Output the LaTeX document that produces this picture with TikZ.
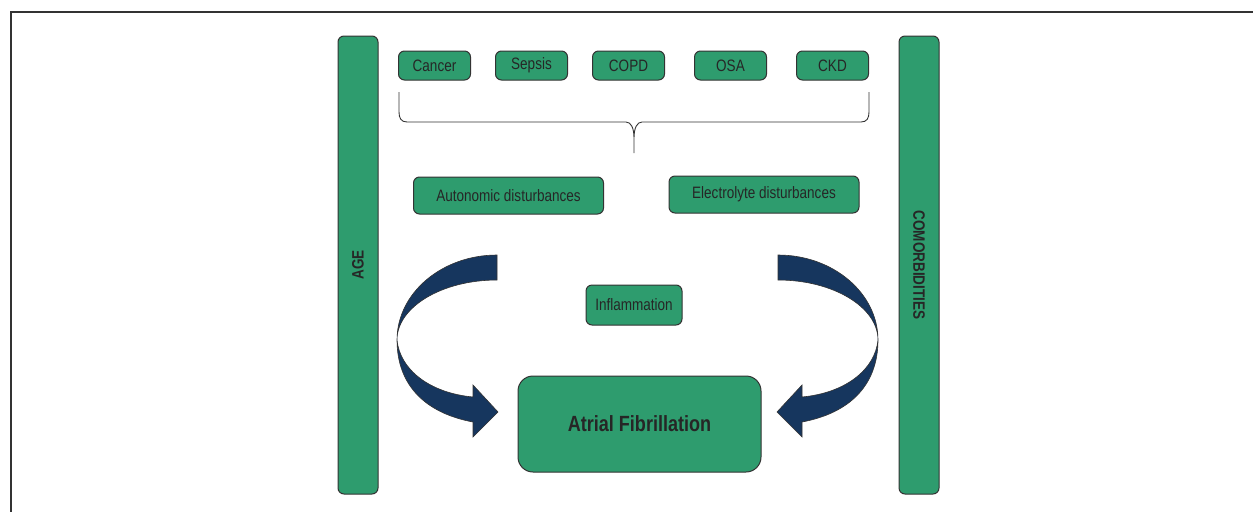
\documentclass[tikz,border=0pt]{standalone}
\usepackage{fontspec}
\setmainfont{Liberation Sans}[FakeStretch=0.82]
\usetikzlibrary{positioning}
\definecolor{afgreen}{RGB}{46,156,110}
\definecolor{afnavy}{RGB}{22,54,94}
\definecolor{afline}{RGB}{51,51,51}
\newcommand{\boxwidth}{72pt}
\newcommand{\boxheight}{29pt}
\tikzstyle{factor} = [% small comorbidity node
  rectangle,
  rounded corners=6pt,
  minimum width=\boxwidth,
  minimum height=\boxheight,
  text centered,
  draw=afline,
  line width=1pt,
  fill=afgreen,
  text=black!85,
  font=\fontsize{16.5}{18}\selectfont
  ]
\tikzstyle{mechanism} = [% mechanism node
  factor,
  minimum width=190pt,
  minimum height=37pt
  ]
\tikzstyle{bar} = [% side bar node
  factor,
  minimum width=458pt,
  minimum height=40pt,
  font=\fontsize{16.5}{18}\selectfont\bfseries
  ]
\tikzstyle{outcome} = [% outcome node
  factor,
  rounded corners=15pt,
  minimum width=243pt,
  minimum height=96pt,
  font=\fontsize{22}{24}\selectfont\bfseries
  ]
\tikzstyle{brace} = [% curly brace line
  draw=afline,
  line width=0.9pt
  ]
\tikzstyle{bigarrow} = [% curved block arrow
  fill=afnavy,
  draw=afline,
  line width=0.6pt
  ]

\begin{document}
\begin{tikzpicture}[x=1pt, y=-1pt]
\useasboundingbox (0,0) rectangle (1253,512);

%%% Frame
\draw[afline, line width=1.5pt] (1253,12) -- (11,12) -- (11,512);

%%% Nodes
\node[bar, rotate=90] (age) at (358,265) {AGE};
\node[bar, rotate=-90] (comorb) at (919,265) {COMORBIDITIES};

\node[factor] (cancer) at (434.5,65.5) {Cancer};
\node[factor] (sepsis) [right=24pt of cancer] {Sepsis};
\node[factor] (copd) [right=24pt of sepsis] {COPD};
\node[factor] (osa) [right=29pt of copd] {OSA};
\node[factor] (ckd) [right=29pt of osa] {CKD};

\node[mechanism] (autonomic) at (508.5,195.5) {Autonomic disturbances};
\node[mechanism] (electrolyte) at (764,194.5) {Electrolyte disturbances};
\node[factor, minimum width=96pt, minimum height=40pt] (inflam) at (634,305) {Inflammation};

\node[outcome] (af) at (639.5,424) {Atrial Fibrillation};

%%% Brace under the comorbidities
\draw[brace] (399,92) -- (399,112) .. controls (399,118) and (401,122) .. (407,122)
  -- (626,122) .. controls (631,122) and (634,128) .. (634,138) -- (634,153)
  (634,138) .. controls (634,128) and (637,122) .. (642,122)
  -- (861,122) .. controls (867,122) and (869,118) .. (869,112) -- (869,92);

%%% Block arrows
\draw[bigarrow] (497,255) .. controls (442,255) and (397,293) .. (397,340)
  .. controls (397,385) and (425,413) .. (473,422)
  -- (473,437) -- (498,412) -- (473,385) -- (473,397)
  .. controls (430,393) and (400,370) .. (397,340)
  .. controls (397,307) and (442,280) .. (497,280) -- cycle;
\begin{scope}[xshift=1275pt, xscale=-1]
  \draw[bigarrow] (497,255) .. controls (442,255) and (397,293) .. (397,340)
    .. controls (397,385) and (425,413) .. (473,422)
    -- (473,437) -- (498,412) -- (473,385) -- (473,397)
    .. controls (430,393) and (400,370) .. (397,340)
    .. controls (397,307) and (442,280) .. (497,280) -- cycle;
\end{scope}

\end{tikzpicture}
\end{document}
